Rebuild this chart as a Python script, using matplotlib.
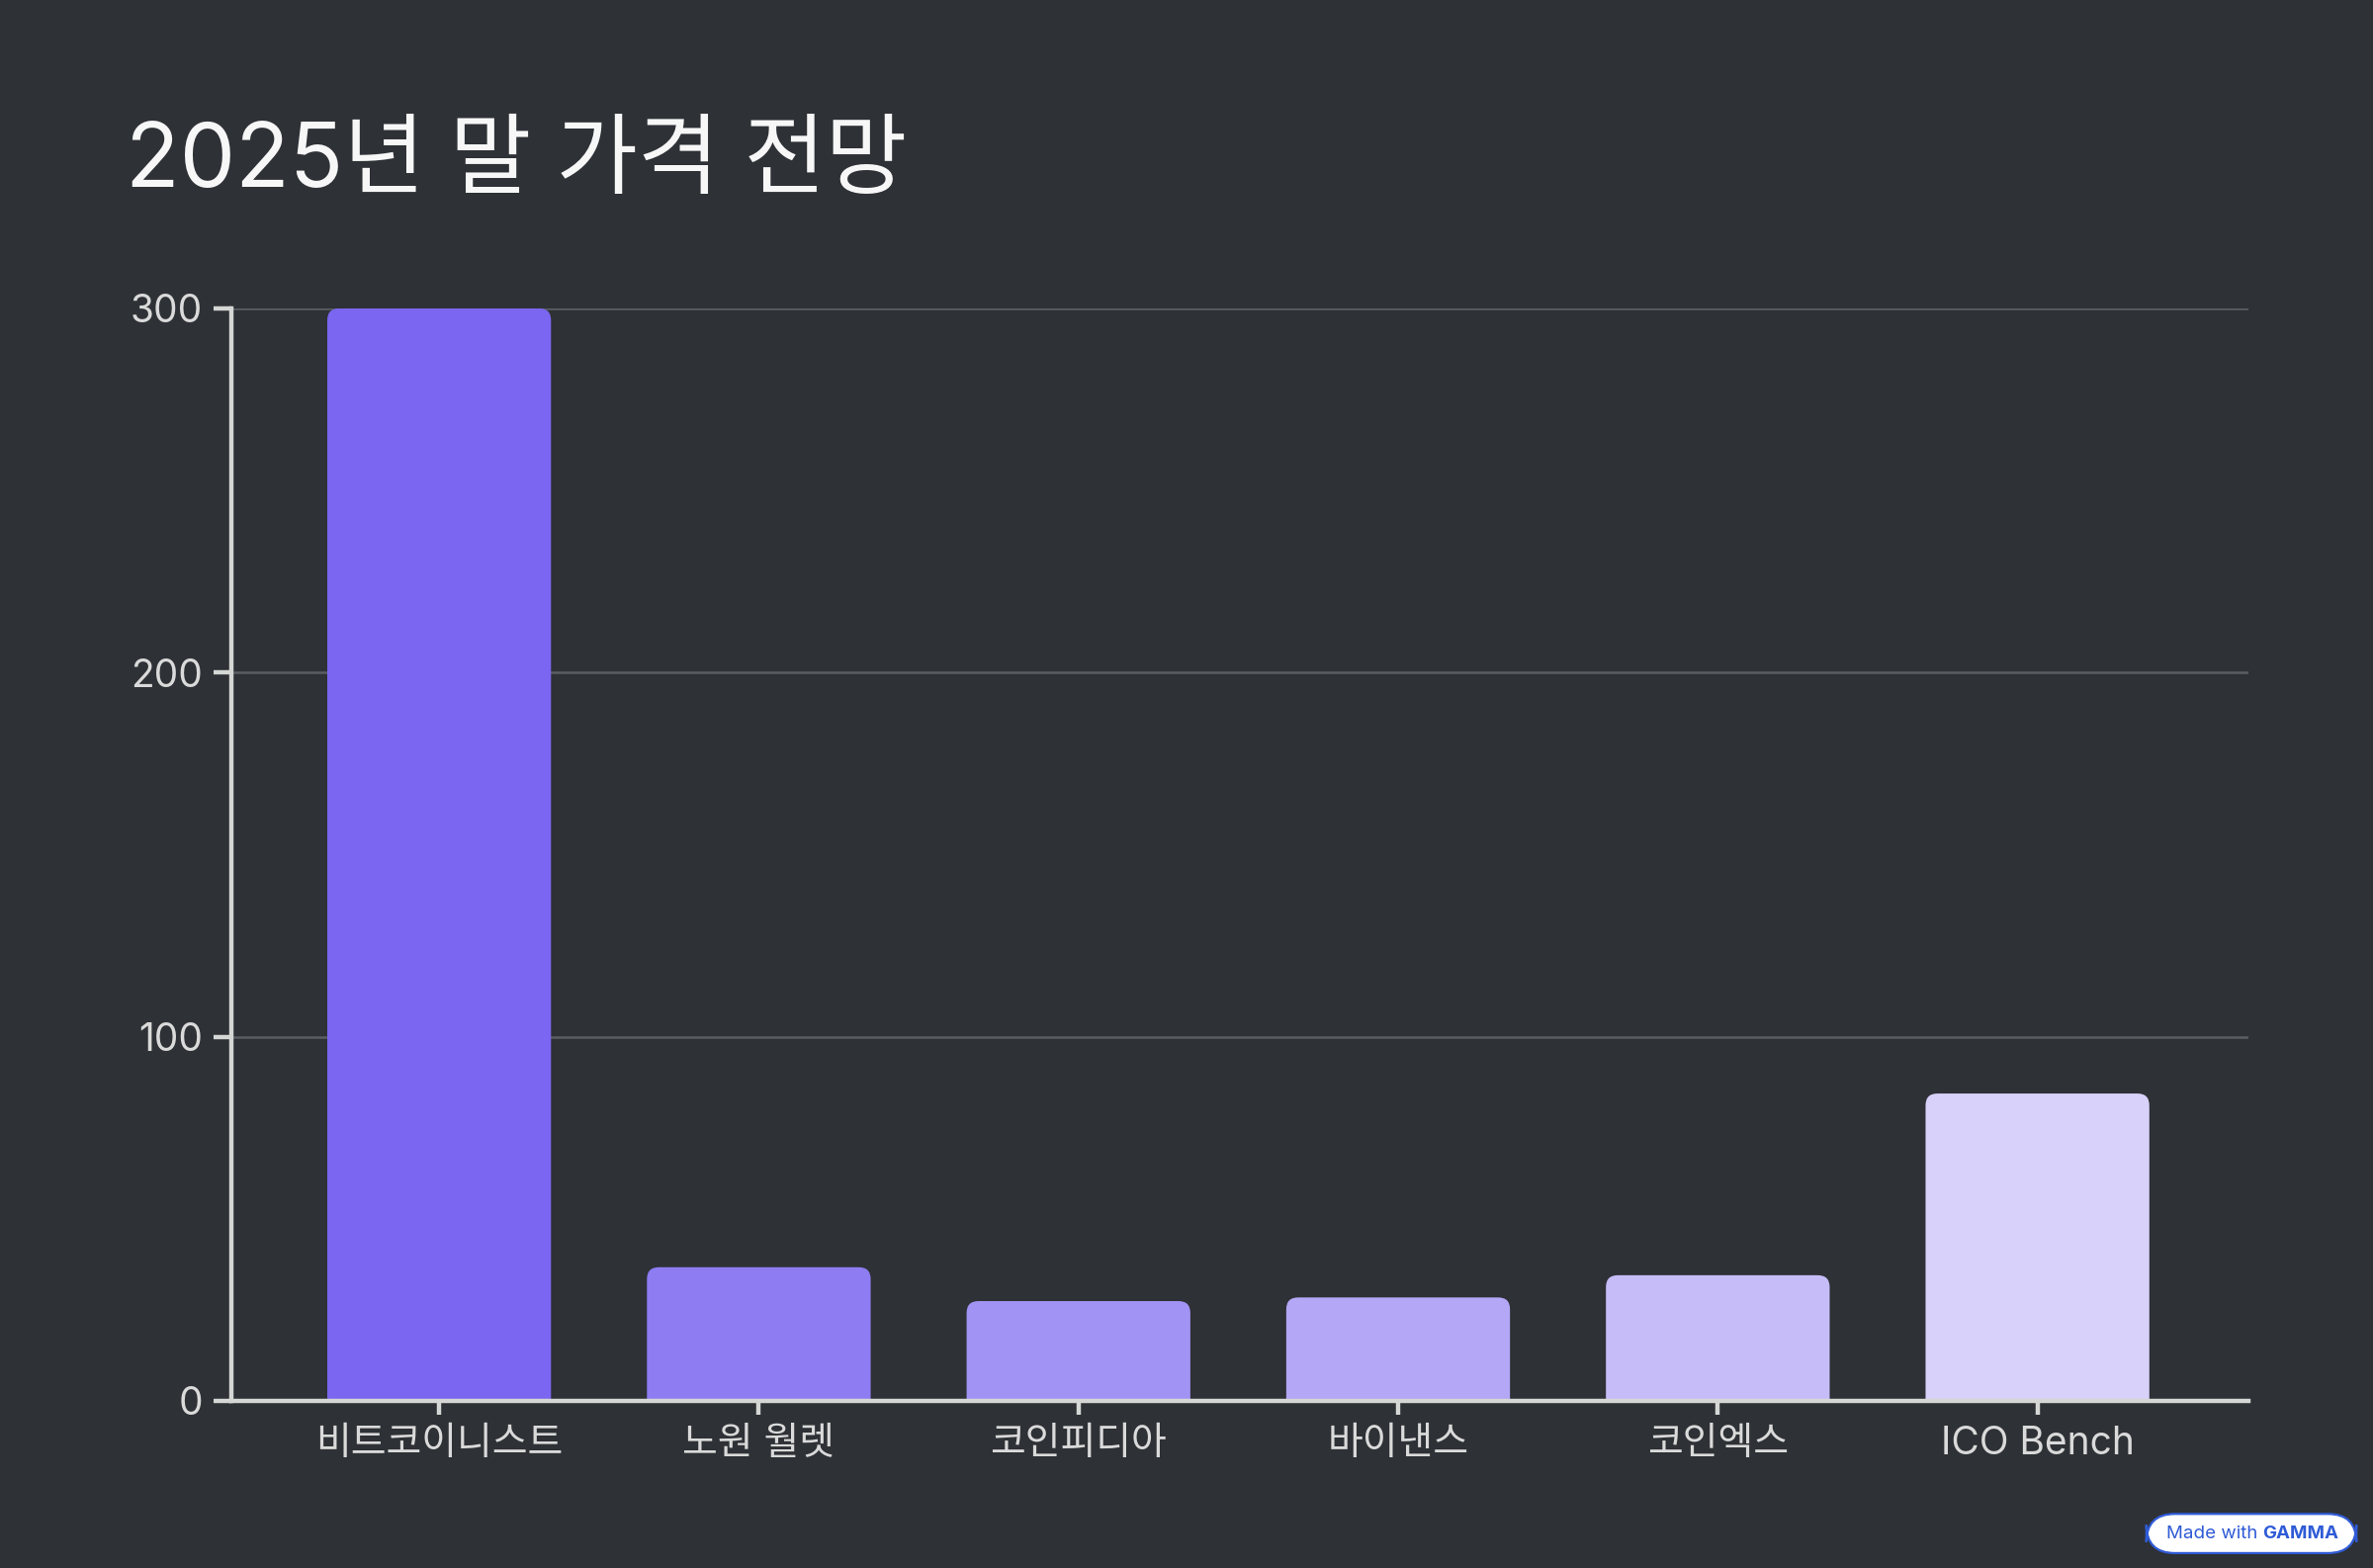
import matplotlib
matplotlib.use("Agg")
import matplotlib.pyplot as plt
from matplotlib.patches import FancyBboxPatch

plt.rcParams['font.family'] = ['Inter', 'Noto Sans CJK KR', 'DejaVu Sans']

# data
sources = ["비트코이니스트", "노원 월렛", "코인피디아", "바이낸스", "코인엑스", "ICO Bench"]
prices = [300, 36.7, 27.4, 28.4, 34.5, 84.4]
bar_colors = ["#7A66F0", "#8E7CF2", "#A193F3", "#B3A7F6", "#C6BCF8", "#D8D1FA"]
yticks = [0, 100, 200, 300]

bg = "#2E3135"
axis_col = "#D5D7D5"
text_col = "#DADADA"

fig = plt.figure(figsize=(24, 15.86), dpi=100)
fig.patch.set_facecolor(bg)
ax = fig.add_axes([0.0975, 0.1066, 0.85, 0.6967])
ax.set_facecolor(bg)

x = list(range(len(sources)))
width = 0.70
bars = ax.bar(x, prices, width=width, color=bar_colors, zorder=2)

ax.set_xlim(-0.65, len(sources) - 1 + 0.66)
ax.set_ylim(0, 300)

# swap plain bars for ones with rounded tops
px_per_x = ax.get_window_extent().width / (ax.get_xlim()[1] - ax.get_xlim()[0])
px_per_y = ax.get_window_extent().height / (ax.get_ylim()[1] - ax.get_ylim()[0])
r_px = 12
for b, c in zip(bars, bar_colors):
    b.set_visible(False)
    rx = r_px / px_per_x
    patch = FancyBboxPatch((b.get_x(), -10), b.get_width(), b.get_height() + 10,
                           boxstyle=f"round,pad=0,rounding_size={rx}",
                           mutation_aspect=px_per_x / px_per_y,
                           facecolor=c, edgecolor="none", zorder=2)
    ax.add_patch(patch)

ax.set_yticks(yticks)
ax.set_xticks(x)
ax.set_xticklabels(sources)
ax.yaxis.grid(True, color="#5A5E62", linewidth=1.8, zorder=0)
ax.set_axisbelow(True)

for s in ["top", "right"]:
    ax.spines[s].set_visible(False)
for s in ["left", "bottom"]:
    ax.spines[s].set_color(axis_col)
    ax.spines[s].set_linewidth(3.2)
    ax.spines[s].set_zorder(3)

ax.tick_params(axis="y", colors=axis_col, length=13, width=3.2, pad=8,
               labelsize=28, labelcolor=text_col)
ax.tick_params(axis="x", colors=axis_col, length=10, width=3.2, pad=8,
               labelsize=28, labelcolor=text_col)

fig.text(0.053, 0.881, "2025년 말 가격 전망", fontsize=64.5, color="#F7F7F7",
         ha="left", va="baseline")

# "Made with GAMMA" badge
badge = FancyBboxPatch((0.9045, 0.0095), 0.0885, 0.025,
                       boxstyle="round,pad=0,rounding_size=0.012",
                       mutation_aspect=1.5, transform=fig.transFigure,
                       facecolor="white", edgecolor="#2F5BD6", linewidth=1.6)
fig.patches.append(badge)
fig.text(0.9535, 0.022, "Made with ", fontsize=13.5, color="#2F5BD6",
         ha="right", va="center")
fig.text(0.9535, 0.022, "GAMMA", fontsize=13.5, color="#2F5BD6",
         fontweight="bold", ha="left", va="center")

fig.savefig("out.png", dpi=100, facecolor=bg)
